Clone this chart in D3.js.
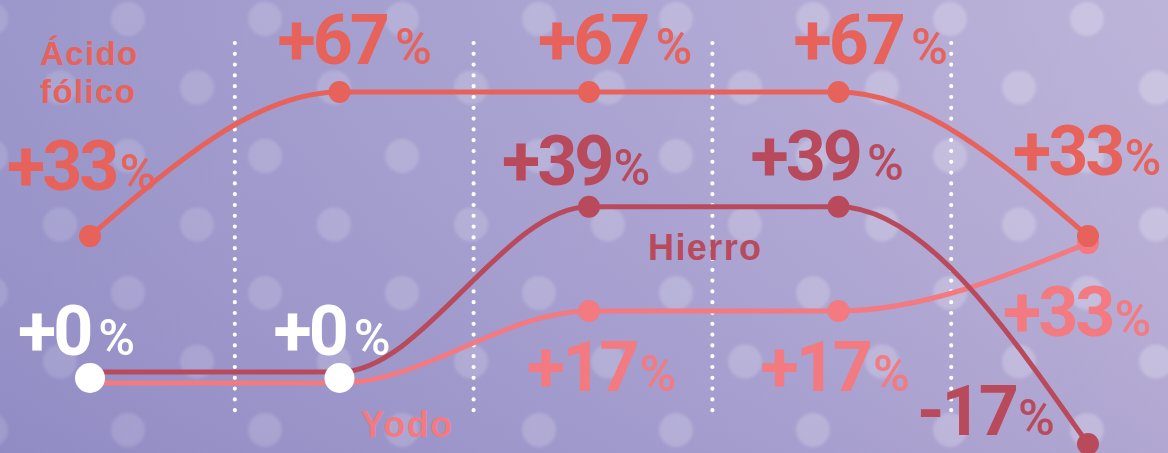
<!DOCTYPE html>
<html><head><meta charset="utf-8">
<script src="https://cdn.jsdelivr.net/npm/d3@7/dist/d3.min.js"></script>
<style>html,body{margin:0;padding:0;overflow:hidden;background:#a59fd0}</style>
</head><body>
<svg id="chart" width="1168" height="453"></svg>
<script>
// ---- data ----
const categories = ["t1", "t2", "t3", "t4", "t5"];
const acidoFolico = [33, 67, 67, 67, 33];
const hierro = [0, 0, 39, 39, -17];
const yodo = [0, 0, 17, 17, 33];
const seriesNames = ["Ácido fólico", "Hierro", "Yodo"];

// ---- config ----
const W = 1168, H = 453;
const colors = {"Ácido fólico": "#e6625a", "Hierro": "#b94a5c", "Yodo": "#f27a80"};
const nudge = {"Ácido fólico": 0, "Hierro": -4, "Yodo": 7};
const series = [
  {name: "Yodo", values: yodo},
  {name: "Hierro", values: hierro},
  {name: "Ácido fólico", values: acidoFolico}
];

const svg = d3.select("#chart");
const defs = svg.append("defs");
const bg = defs.append("linearGradient").attr("id", "bg").attr("x1", "0").attr("y1", "0").attr("x2", "1").attr("y2", "0");
bg.append("stop").attr("offset", "0").attr("stop-color", "#9792c8");
bg.append("stop").attr("offset", "0.55").attr("stop-color", "#a9a2d1");
bg.append("stop").attr("offset", "1").attr("stop-color", "#bab0d7");
const shade = defs.append("linearGradient").attr("id", "shade").attr("x1", "0").attr("y1", "0").attr("x2", "0").attr("y2", "1");
shade.append("stop").attr("offset", "0").attr("stop-color", "#ffffff").attr("stop-opacity", 0.05);
shade.append("stop").attr("offset", "1").attr("stop-color", "#5a50a0").attr("stop-opacity", 0.10);
defs.append("filter").attr("id", "blur").append("feGaussianBlur").attr("stdDeviation", 1.8);

svg.append("rect").attr("width", W).attr("height", H).attr("fill", "url(#bg)");
svg.append("rect").attr("width", W).attr("height", H).attr("fill", "url(#shade)");

// bokeh dots (decorative diamond grid)
const bokeh = [];
const stepX = 137, stepY = 68.5;
for (let r = 0; r < 7; r++) {
  for (let c = -1; c < 10; c++) {
    bokeh.push([128 + c * stepX + (r % 2 ? 69 : 0), 19 + r * stepY]);
  }
}
svg.append("g").attr("filter", "url(#blur)").selectAll("circle").data(bokeh).join("circle")
  .attr("cx", d => d[0]).attr("cy", d => d[1]).attr("r", 17)
  .attr("fill", "#ffffff").attr("fill-opacity", d => 0.13 + 0.1 * (d[0] / W));

// scales
const x = d3.scalePoint().domain(categories).range([90, 1088]);
const band = d3.scaleBand().domain(categories).range([-4, 1190]);
const y = d3.scaleLinear().domain([0, 67]).range([376, 92]);

// dotted separators
svg.append("g").selectAll("line").data(categories.slice(1)).join("line")
  .attr("x1", d => band(d)).attr("x2", d => band(d))
  .attr("y1", 43).attr("y2", 413)
  .attr("stroke", "#ffffff").attr("stroke-width", 4.2)
  .attr("stroke-linecap", "round").attr("stroke-dasharray", "0 10.8");

// lines
const line = d3.line().curve(d3.curveMonotoneX);
series.forEach(s => {
  const pts = s.values.map((v, i) => [x(categories[i]), y(v) + nudge[s.name]]);
  svg.append("path").attr("d", line(pts)).attr("fill", "none")
    .attr("stroke", colors[s.name]).attr("stroke-width", 5);
});
// dots
series.forEach(s => {
  svg.append("g").selectAll("circle").data(s.values.map((v, i) => ({v, i}))).join("circle")
    .filter(d => d.v !== 0)
    .attr("cx", d => x(categories[d.i])).attr("cy", d => y(d.v) + nudge[s.name])
    .attr("r", 11).attr("fill", colors[s.name]);
});
// white start dots (value 0)
svg.append("g").selectAll("circle").data(hierro.map((v, i) => ({v, i})).filter(d => d.v === 0)).join("circle")
  .attr("cx", d => x(categories[d.i])).attr("cy", d => y(d.v) + 2)
  .attr("r", 15).attr("fill", "#ffffff");

// value labels: [series, index, dx, dy, gap]
const valueLabels = [
  ["Ácido fólico", 0, -83, -46, 0],
  ["Ácido fólico", 1, -62, -28, 5],
  ["Ácido fólico", 2, -51, -28, 5],
  ["Ácido fólico", 3, -45, -28, 5],
  ["Ácido fólico", 4, -75, -61, -1],
  ["Hierro", 2, -87, -22, -1],
  ["Hierro", 3, -88, -27, 4],
  ["Hierro", 4, -171, -9, -1],
  ["Yodo", 2, -62, 80, 0],
  ["Yodo", 3, -78, 80, 0],
  ["Yodo", 4, -85, 93, -1],
  ["Hierro", 0, -72, -21, 5],
  ["Hierro", 1, -66, -21, 5]
];
const lookup = {"Ácido fólico": acidoFolico, "Hierro": hierro, "Yodo": yodo};
const fmt = v => (v < 0 ? "-" + Math.abs(v) : "+" + v);
valueLabels.forEach(([name, i, dx, dy, gap]) => {
  const v = lookup[name][i];
  const t = svg.append("text")
    .attr("x", x(categories[i]) + dx)
    .attr("y", (v === 0 ? y(0) : y(v) + nudge[name]) + dy)
    .attr("fill", v === 0 ? "#ffffff" : colors[name]);
  t.append("tspan").text(fmt(v))
    .attr("font-family", "Roboto, 'Liberation Sans', sans-serif")
    .attr("font-weight", 700).attr("font-size", 70).attr("letter-spacing", -3);
  t.append("tspan").text("%").attr("dx", gap + 3)
    .attr("font-family", "Roboto, 'Liberation Sans', sans-serif")
    .attr("font-weight", 500).attr("font-size", 50);
});

// series labels: [series, anchor index, dx, dy, lines, size, lineGap]
const seriesLabels = [
  ["Ácido fólico", 0, -50, -171, ["Ácido", "fólico"], 33, 38],
  ["Hierro", 2, 59, 53, ["Hierro"], 36, 0],
  ["Yodo", 1, 21, 54, ["Yodo"], 36, 0]
];
seriesLabels.forEach(([name, i, dx, dy, lines, size, lineGap]) => {
  lines.forEach((l, k) => svg.append("text")
    .attr("x", x(categories[i]) + dx)
    .attr("y", y(lookup[name][i]) + nudge[name] + dy + k * lineGap)
    .attr("fill", colors[name])
    .attr("font-family", "'Liberation Sans', Arial, sans-serif")
    .attr("font-weight", 700).attr("font-size", size).attr("letter-spacing", 1.4)
    .text(l));
});
</script>
</body></html>
